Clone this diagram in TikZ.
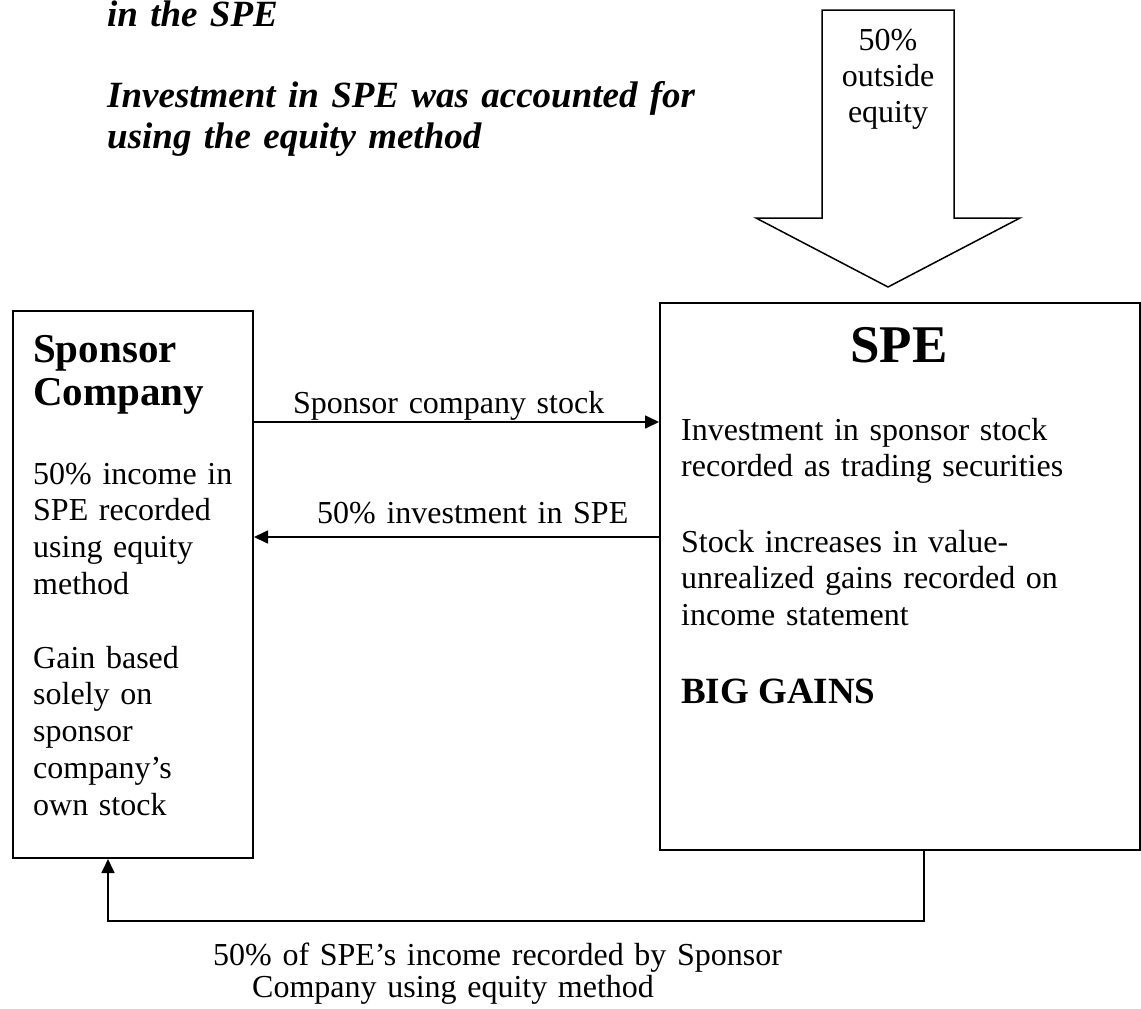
\documentclass[tikz,border=0pt]{standalone}
\usepackage{fontspec}
\setmainfont{Liberation Serif}
\usetikzlibrary{arrows.meta}
\begin{document}
\begin{tikzpicture}[x=1pt, y=-1pt,
  box/.style={draw, line width=2pt, inner sep=0pt, anchor=north west},
  flow/.style={line width=1.7pt, -{Triangle[length=14pt,width=13pt]}},
  body/.style={anchor=base west, inner sep=0pt, text width=#1, align=left,
    font=\fontsize{32}{36.8}\selectfont},
  body/.default=440pt,
  heading/.style={anchor=base west, inner sep=0pt, text width=620pt, align=left,
    font=\bfseries\itshape\fontsize{37}{41}\selectfont},
  bigarrow/.style={draw, line width=1.5pt, line join=miter}
]
\useasboundingbox (0,0) rectangle (1141,1009);

% heading text, upper left
\node[heading] (head1) at (107,27) {in the SPE};
\node[heading] (head2) at (107,107) {Investment in SPE was accounted for\\using the equity method};

% outside equity flowing into the SPE
\draw[bigarrow] (822,10) -- (954,10) -- (954,218) -- (1020,218) -- (888,287)
  -- (756,218) -- (822,218) -- cycle;
\node[anchor=base, inner sep=0pt, text width=150pt, align=center,
  font=\fontsize{32}{36}\selectfont] (outside) at (888,50) {50\%\\outside\\equity};

% the two entities
\node[box, minimum width=240pt, minimum height=547pt] (sponsor) at (12,310) {};
\node[box, minimum width=480pt, minimum height=547pt] (spe) at (659,302) {};

% sponsor company contents
\node[anchor=base west, inner sep=0pt, text width=210pt, align=left,
  font=\bfseries\fontsize{41}{43}\selectfont] (sptitle) at (33,362) {Sponsor\\Company};
\node[body=215pt] (spnote1) at (33,484) {50\% income in\\SPE recorded\\using equity\\method};
\node[body=215pt] (spnote2) at (33,668) {Gain based\\solely on\\sponsor\\company’s\\own stock};

% SPE contents
\node[anchor=base, inner sep=0pt, font=\bfseries\fontsize{53}{58}\selectfont] (spetitle) at (899,362) {SPE};
\node[body] (spenote1) at (681,440) {Investment in sponsor stock\\recorded as trading securities};
\node[body] (spenote2) at (681,552) {Stock increases in value-\\unrealized gains recorded on\\income statement};
\node[anchor=base west, inner sep=0pt, font=\bfseries\fontsize{37}{41}\selectfont] (biggains) at (681,703) {BIG GAINS};

% flows between the entities
\coordinate (rowA) at (0,422);
\coordinate (rowB) at (0,537);
\draw[flow] (sponsor.east |- rowA) -- (spe.west |- rowA);
\draw[flow] (spe.west |- rowB) -- (sponsor.east |- rowB);
\node[body] (stocklbl) at (293,413) {Sponsor company stock};
\node[body] (invlbl) at (317,523) {50\% investment in SPE};

% income returned to the sponsor
\coordinate (turnR) at (924,921);
\coordinate (turnL) at (108,921);
\draw[flow] (spe.south -| turnR) -- (turnR) -- (turnL) -- (sponsor.south -| turnL);
\node[anchor=base west, inner sep=0pt, text width=700pt, align=left,
  font=\fontsize{32}{32.5}\selectfont] (incomelbl) at (213,965)
  {50\% of SPE’s income recorded by Sponsor\\\hspace*{39pt}Company using equity method};
\end{tikzpicture}
\end{document}
